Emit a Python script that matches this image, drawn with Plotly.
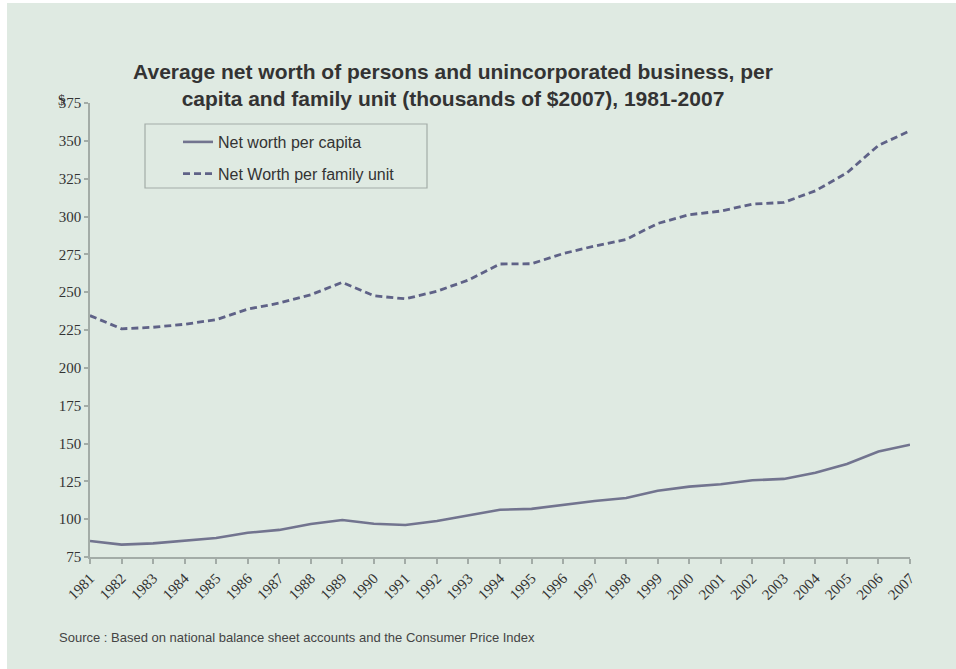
import plotly.graph_objects as go

# Years covered by the series
years = list(range(1981, 2008))
year_labels = [str(y) for y in years]

# Average net worth, thousands of 2007 dollars
per_capita = [85.6, 83.2, 84.0, 85.6, 87.5, 91.0, 92.9, 96.8, 99.4, 97.0, 96.1,
              98.8, 102.5, 106.2, 106.8, 109.5, 112.0, 114.0, 118.8, 121.5, 123.1,
              125.7, 126.6, 130.7, 136.5, 144.7, 149.2]
per_family = [234.5, 225.8, 226.8, 228.8, 231.8, 238.8, 242.8, 248.3, 256.5, 247.6, 245.6,
              250.6, 258.0, 268.6, 268.8, 275.5, 280.5, 284.8, 295.4, 301.2, 303.6,
              308.2, 309.3, 317.0, 328.8, 347.0, 356.6]

y_ticks = list(range(75, 376, 25))

BG = "#dfeae2"
LINE_SOLID = "#72748f"
LINE_DASH = "#5f6287"
AXIS = "#a3aca7"
TEXT = "#333333"
SERIF = "Liberation Serif, Times New Roman, serif"
SANS = "Liberation Sans, Arial, sans-serif"

fig = go.Figure()
fig.add_trace(go.Scatter(
    x=years, y=per_capita, mode="lines", name="Net worth per capita",
    legendgroup="a",
    line=dict(color=LINE_SOLID, width=2.6),
))
fig.add_trace(go.Scatter(
    x=years, y=per_family, mode="lines", name="Net Worth per family unit",
    legendgroup="b",
    line=dict(color=LINE_DASH, width=2.8, dash="7px,4px"),
))

L, R, T, B = 90, 46, 103, 112
W, H = 956, 669
pw, ph = W - L - R, H - T - B


def px_x(p):
    return (p - L) / pw


def px_y(p):
    return (H - B - p) / ph


fig.update_layout(
    width=W, height=H,
    margin=dict(l=L, r=R, t=T, b=B, pad=0),
    paper_bgcolor=BG, plot_bgcolor=BG,
    font=dict(family=SANS, color=TEXT),
    title=dict(
        text="<b>Average net worth of persons and unincorporated business, per<br>"
             "capita and family unit (thousands of $2007), 1981-2007</b>",
        x=453 / W, xanchor="center", y=1 - 79 / H, yanchor="top",
        font=dict(size=21, color=TEXT, family=SANS),
    ),
    showlegend=True,
    legend=dict(
        x=px_x(178), y=px_y(125), xanchor="left", yanchor="top",
        bgcolor="rgba(0,0,0,0)", borderwidth=0,
        font=dict(size=16, color=TEXT),
        tracegroupgap=8, itemwidth=30,
    ),
    xaxis=dict(
        range=[1981, 2007], tickvals=years, ticktext=year_labels,
        tickangle=-45, showgrid=False, zeroline=False,
        showline=True, linecolor=AXIS, linewidth=1.5,
        ticks="outside", ticklen=5, tickcolor=AXIS, tickwidth=1.5,
        tickfont=dict(family=SERIF, size=15, color=TEXT),
    ),
    yaxis=dict(
        range=[75, 375], tickvals=y_ticks, showgrid=False, zeroline=False,
        showline=True, linecolor=AXIS, linewidth=1.5,
        ticks="outside", ticklen=4, tickcolor=AXIS, tickwidth=1.5,
        tickfont=dict(family=SERIF, size=15, color=TEXT),
    ),
    shapes=[
        # legend frame
        dict(type="rect", xref="paper", yref="paper",
             x0=px_x(145), x1=px_x(427), y0=px_y(188), y1=px_y(124),
             line=dict(color=AXIS, width=1.2), fillcolor="rgba(0,0,0,0)"),
        # white edge along the left and top of the page
        dict(type="rect", xref="paper", yref="paper",
             x0=px_x(0), x1=px_x(7), y0=px_y(H), y1=px_y(0),
             line=dict(width=0), fillcolor="white", layer="above"),
        dict(type="rect", xref="paper", yref="paper",
             x0=px_x(0), x1=px_x(W), y0=px_y(3), y1=px_y(0),
             line=dict(width=0), fillcolor="white", layer="above"),
    ],
    annotations=[
        dict(text="$", xref="paper", yref="paper", x=px_x(61), y=px_y(100),
             xanchor="center", yanchor="middle", showarrow=False,
             font=dict(family=SERIF, size=14, color=TEXT)),
        dict(text="Source : Based on national balance sheet accounts and the Consumer Price Index",
             xref="paper", yref="paper", x=px_x(57), y=px_y(637),
             xanchor="left", yanchor="middle", showarrow=False,
             font=dict(size=13, color="#444444")),
    ],
)

fig.write_html("out.html")
